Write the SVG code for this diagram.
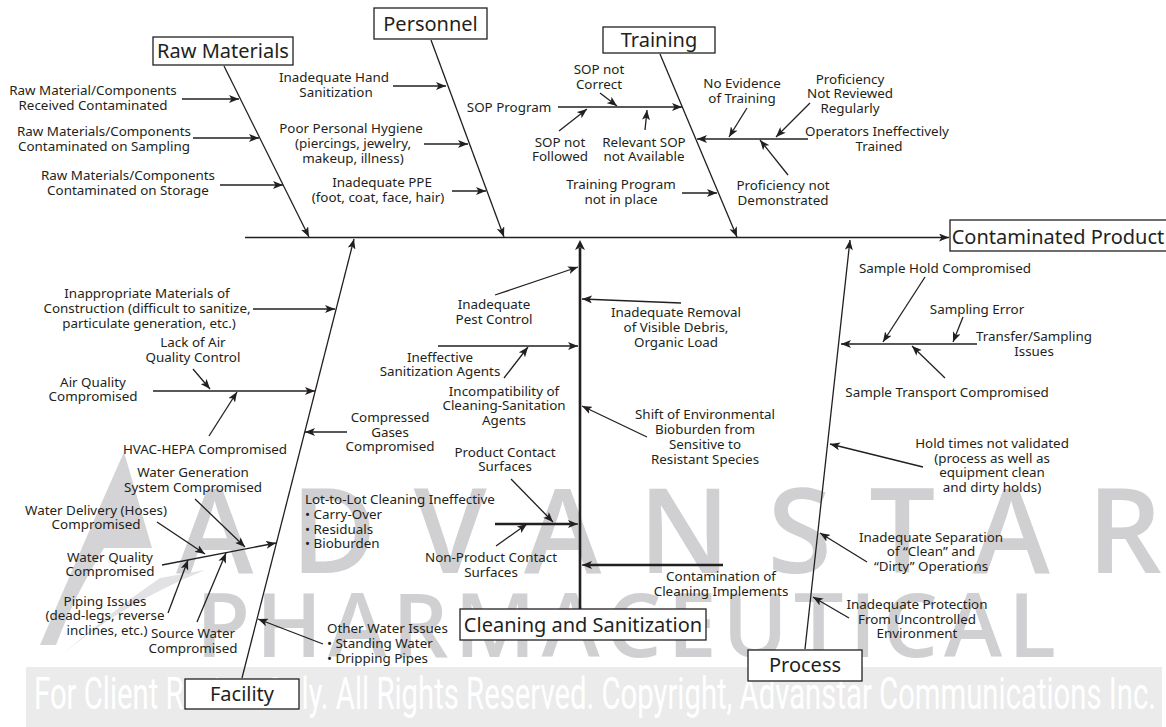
<svg xmlns="http://www.w3.org/2000/svg" width="1166" height="727" viewBox="0 0 1166 727">
<style>
.t{font-family:"Noto Sans","Open Sans",sans-serif;font-size:13.4px;fill:#231f20;text-anchor:middle}
.l{text-anchor:start}
.h{font-family:"Noto Sans","Open Sans",sans-serif;font-size:20px;fill:#231f20;text-anchor:middle}
.box{fill:#fff;stroke:#231f20;stroke-width:1.3}
.c{stroke:#231f20;stroke-width:1.3;fill:none}
.a{stroke:#231f20;stroke-width:1.3;fill:none;marker-end:url(#ah)}
.k{stroke:#231f20;stroke-width:2.6;fill:none}
.wm{font-family:"Open Sans","Noto Sans",sans-serif;font-weight:600;fill:#d0d0d2}
</style>
<defs>
<marker id="ah" viewBox="0 0 10 8" refX="10" refY="4" markerWidth="10" markerHeight="8" markerUnits="userSpaceOnUse" orient="auto">
<path d="M0,0 L10,4 L0,8 L2.5,4 Z" fill="#231f20"/>
</marker>
</defs>
<rect width="1166" height="727" fill="#fff"/>
<g id="watermark">
<path d="M40,645 Q85,540 124,452 L152,548 L104,548 Q74,596 56,645 Z" fill="#d4d4d6"/>
<path d="M62,655 Q120,605 205,570 L160,578 Q110,612 62,655 Z" fill="#e2e2e4"/>
<text class="wm" x="176" y="573" font-size="117" textLength="986" lengthAdjust="spacing">ADVANSTAR</text>
<text class="wm" x="196" y="657" font-size="88" textLength="860" lengthAdjust="spacing">PHARMACEUTICAL</text>
<rect x="26" y="667" width="1136" height="60" fill="#ebebec"/>
<text x="34" y="709" font-family="Roboto,'Noto Sans',sans-serif" font-size="44" fill="#fff" textLength="1122" lengthAdjust="spacingAndGlyphs">For Client Review Only. All Rights Reserved. Copyright, Advanstar Communications Inc.</text>
</g>
<g id="connectors">
<line class="a" x1="245" y1="237.5" x2="949" y2="237.5"/>
<line class="a" x1="224" y1="66" x2="309" y2="237"/>
<line class="a" x1="431" y1="40" x2="504" y2="237"/>
<line class="a" x1="660" y1="54" x2="737" y2="237"/>
<line class="a" x1="182" y1="99" x2="239" y2="99"/>
<line class="a" x1="193" y1="138" x2="259" y2="138"/>
<line class="a" x1="220" y1="185" x2="283" y2="185"/>
<line class="a" x1="393" y1="86" x2="446" y2="86"/>
<line class="a" x1="424" y1="144" x2="468" y2="144"/>
<line class="a" x1="452" y1="191" x2="486" y2="191"/>
<line class="a" x1="558" y1="107" x2="682" y2="107"/>
<line class="a" x1="600" y1="93" x2="617" y2="106"/>
<line class="a" x1="559" y1="131" x2="587" y2="109"/>
<line class="a" x1="645" y1="130" x2="647" y2="110"/>
<line class="a" x1="682" y1="193" x2="717" y2="193"/>
<line class="a" x1="808" y1="139" x2="697" y2="139"/>
<line class="a" x1="747" y1="108" x2="729" y2="137"/>
<line class="a" x1="810" y1="103" x2="776" y2="137"/>
<line class="a" x1="788" y1="175" x2="760" y2="140"/>
<line class="a" x1="242" y1="678" x2="354" y2="239"/>
<line class="a" x1="253" y1="309" x2="335" y2="309"/>
<line class="a" x1="153" y1="391" x2="315" y2="391"/>
<line class="a" x1="193" y1="369" x2="210" y2="389"/>
<line class="a" x1="209" y1="436" x2="237" y2="392"/>
<line class="a" x1="347" y1="432" x2="305" y2="432"/>
<line class="a" x1="162" y1="565" x2="276" y2="543"/>
<line class="a" x1="195" y1="499" x2="245" y2="547"/>
<line class="a" x1="157" y1="522" x2="205" y2="554"/>
<line class="a" x1="168" y1="613" x2="188" y2="560"/>
<line class="a" x1="197" y1="622" x2="226" y2="553"/>
<line class="a" x1="323" y1="644" x2="258" y2="619"/>
<line class="k" x1="580" y1="610" x2="580" y2="248"/>
<path d="M580,240 L585,250 L580,247.5 L575,250 Z" fill="#231f20"/>
<line class="a" x1="495" y1="295" x2="578" y2="267"/>
<line class="a" x1="681" y1="303" x2="582" y2="299"/>
<line class="a" x1="438" y1="346" x2="578" y2="346"/>
<line class="a" x1="504" y1="378" x2="528" y2="347"/>
<line class="a" x1="647" y1="437" x2="582" y2="406"/>
<line class="a" x1="511" y1="479" x2="553" y2="522"/>
<line class="k" x1="495" y1="524" x2="570" y2="524"/>
<line class="a" x1="560" y1="524" x2="578" y2="524"/>
<line class="a" x1="496" y1="546" x2="527" y2="524"/>
<line class="k" x1="723" y1="565" x2="590" y2="565"/>
<line class="a" x1="600" y1="565" x2="582" y2="565"/>
<line class="a" x1="805" y1="649" x2="850" y2="240"/>
<line class="a" x1="977" y1="344" x2="841" y2="344"/>
<line class="a" x1="925" y1="277" x2="883" y2="342"/>
<line class="a" x1="963" y1="317" x2="953" y2="342"/>
<line class="a" x1="945" y1="378" x2="912" y2="346"/>
<line class="a" x1="923" y1="467" x2="830" y2="444"/>
<line class="a" x1="867" y1="562" x2="820" y2="533"/>
<line class="a" x1="849" y1="618" x2="813" y2="597"/>
</g>
<g id="raw-materials">
<rect class="box" x="153" y="37" width="140" height="28"/>
<text class="h" x="223" y="58">Raw Materials</text>
<text class="t" x="93" y="94.5">Raw Material/Components</text>
<text class="t" x="93" y="109.5">Received Contaminated</text>
<text class="t" x="104" y="135.5">Raw Materials/Components</text>
<text class="t" x="104" y="150.5">Contaminated on Sampling</text>
<text class="t" x="128" y="179.5">Raw Materials/Components</text>
<text class="t" x="128" y="195">Contaminated on Storage</text>
</g>
<g id="personnel">
<rect class="box" x="374" y="8" width="113" height="31"/>
<text class="h" x="430.5" y="31">Personnel</text>
<text class="t" x="334" y="81.5">Inadequate Hand</text>
<text class="t" x="336" y="96.5">Sanitization</text>
<text class="t" x="351" y="132.5">Poor Personal Hygiene</text>
<text class="t" x="353" y="147.5">(piercings, jewelry,</text>
<text class="t" x="353" y="162.5">makeup, illness)</text>
<text class="t" x="382" y="186.5">Inadequate PPE</text>
<text class="t" x="378" y="201.5">(foot, coat, face, hair)</text>
</g>
<g id="training">
<rect class="box" x="603" y="27" width="112" height="26"/>
<text class="h" x="659" y="47">Training</text>
<text class="t" x="509" y="111.5">SOP Program</text>
<text class="t" x="599" y="73.5">SOP not</text>
<text class="t" x="599" y="88.5">Correct</text>
<text class="t" x="560" y="146.5">SOP not</text>
<text class="t" x="560" y="160.5">Followed</text>
<text class="t" x="644" y="146.5">Relevant SOP</text>
<text class="t" x="644" y="160.5">not Available</text>
<text class="t" x="621" y="188.5">Training Program</text>
<text class="t" x="621" y="203.5">not in place</text>
<text class="t" x="877" y="135.5">Operators Ineffectively</text>
<text class="t" x="879" y="150.5">Trained</text>
<text class="t" x="742" y="87.5">No Evidence</text>
<text class="t" x="742" y="102.5">of Training</text>
<text class="t" x="850" y="83.5">Proficiency</text>
<text class="t" x="850" y="97.5">Not Reviewed</text>
<text class="t" x="850" y="112.5">Regularly</text>
<text class="t" x="783" y="189.5">Proficiency not</text>
<text class="t" x="783" y="204.5">Demonstrated</text>
</g>
<g id="contaminated-product">
<rect class="box" x="950" y="220" width="222" height="31"/>
<text class="h" x="1058" y="244">Contaminated Product</text>
</g>
<g id="facility">
<rect class="box" x="185" y="679" width="114" height="30"/>
<text class="h" x="242" y="701">Facility</text>
<text class="t" x="147" y="297.5">Inappropriate Materials of</text>
<text class="t" x="147" y="312.5">Construction (difficult to sanitize,</text>
<text class="t" x="149" y="327.5">particulate generation, etc.)</text>
<text class="t" x="93" y="386.5">Air Quality</text>
<text class="t" x="93" y="400.5">Compromised</text>
<text class="t" x="193" y="346.5">Lack of Air</text>
<text class="t" x="193" y="361.5">Quality Control</text>
<text class="t" x="205" y="453.5">HVAC-HEPA Compromised</text>
<text class="t" x="390" y="421.5">Compressed</text>
<text class="t" x="390" y="436.5">Gases</text>
<text class="t" x="390" y="450.5">Compromised</text>
<text class="t" x="193" y="476.5">Water Generation</text>
<text class="t" x="193" y="491.5">System Compromised</text>
<text class="t" x="96" y="514.5">Water Delivery (Hoses)</text>
<text class="t" x="96" y="528.5">Compromised</text>
<text class="t" x="110" y="561.5">Water Quality</text>
<text class="t" x="110" y="575.5">Compromised</text>
<text class="t" x="105" y="605.5">Piping Issues</text>
<text class="t" x="105" y="620">(dead-legs, reverse</text>
<text class="t" x="107" y="634.5">inclines, etc.)</text>
<text class="t" x="193" y="637.5">Source Water</text>
<text class="t" x="193" y="652.5">Compromised</text>
<text class="t l" x="327" y="632.5">Other Water Issues</text>
<text class="t l" x="327" y="647.5">• Standing Water</text>
<text class="t l" x="327" y="662.5">• Dripping Pipes</text>
</g>
<g id="cleaning-and-sanitization">
<rect class="box" x="460" y="609" width="246" height="31"/>
<text class="h" x="583" y="632">Cleaning and Sanitization</text>
<text class="t" x="494" y="308.5">Inadequate</text>
<text class="t" x="494" y="323.5">Pest Control</text>
<text class="t" x="676" y="316.5">Inadequate Removal</text>
<text class="t" x="676" y="331.5">of Visible Debris,</text>
<text class="t" x="676" y="346.5">Organic Load</text>
<text class="t" x="440" y="361.5">Ineffective</text>
<text class="t" x="440" y="375.5">Sanitization Agents</text>
<text class="t" x="504" y="395.5">Incompatibility of</text>
<text class="t" x="504" y="410">Cleaning-Sanitation</text>
<text class="t" x="504" y="425">Agents</text>
<text class="t" x="705" y="418.5">Shift of Environmental</text>
<text class="t" x="705" y="433.5">Bioburden from</text>
<text class="t" x="705" y="448.5">Sensitive to</text>
<text class="t" x="705" y="463.5">Resistant Species</text>
<text class="t" x="505" y="456.5">Product Contact</text>
<text class="t" x="505" y="470.5">Surfaces</text>
<text class="t l" x="305" y="503.5">Lot-to-Lot Cleaning Ineffective</text>
<text class="t l" x="305" y="518.5">• Carry-Over</text>
<text class="t l" x="305" y="533.5">• Residuals</text>
<text class="t l" x="305" y="547.5">• Bioburden</text>
<text class="t" x="491" y="561.5">Non-Product Contact</text>
<text class="t" x="491" y="576.5">Surfaces</text>
<text class="t" x="721" y="580.5">Contamination of</text>
<text class="t" x="721" y="595.5">Cleaning Implements</text>
</g>
<g id="process">
<rect class="box" x="748" y="650" width="114" height="31"/>
<text class="h" x="805" y="672">Process</text>
<text class="t" x="945" y="272.5">Sample Hold Compromised</text>
<text class="t" x="977" y="313.5">Sampling Error</text>
<text class="t" x="1034" y="340.5">Transfer/Sampling</text>
<text class="t" x="1034" y="355.5">Issues</text>
<text class="t" x="947" y="396.5">Sample Transport Compromised</text>
<text class="t" x="992" y="447.5">Hold times not validated</text>
<text class="t" x="992" y="462.5">(process as well as</text>
<text class="t" x="992" y="476.5">equipment clean</text>
<text class="t" x="992" y="491.5">and dirty holds)</text>
<text class="t" x="931" y="541.5">Inadequate Separation</text>
<text class="t" x="931" y="555.5">of “Clean” and</text>
<text class="t" x="931" y="570.5">“Dirty” Operations</text>
<text class="t" x="917" y="608.5">Inadequate Protection</text>
<text class="t" x="917" y="623.5">From Uncontrolled</text>
<text class="t" x="917" y="637.5">Environment</text>
</g>
</svg>
